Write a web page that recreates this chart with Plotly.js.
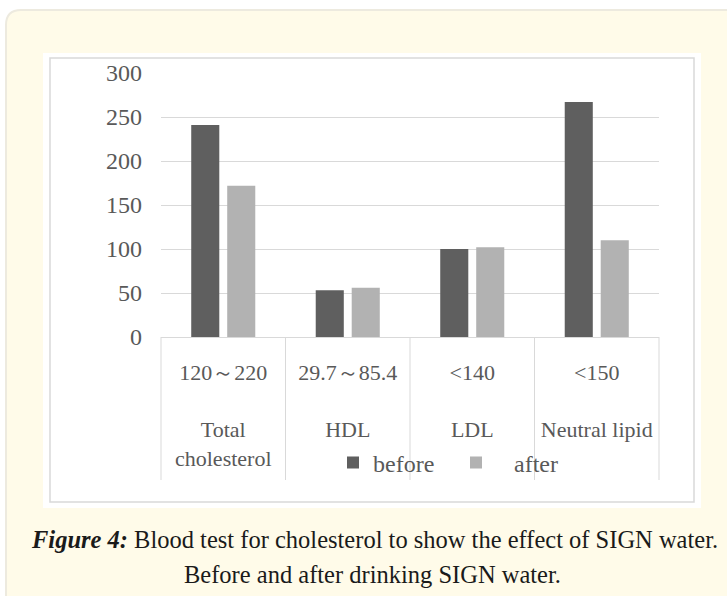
<!DOCTYPE html>
<html>
<head>
<meta charset="utf-8">
<script src="https://cdn.plot.ly/plotly-3.0.1.min.js"></script>
<style>
  html, body { margin: 0; padding: 0; background: #ffffff; }
  #chart { width: 727px; height: 596px; }
</style>
</head>
<body>
<div id="chart"></div>
<script>
// ---- data ----
const categories = ["Total<br>cholesterol", "HDL", "LDL", "Neutral lipid"];
const referenceRanges = ["120～220", "29.7～85.4", "<140", "<150"];
const beforeValues = [241, 53, 100, 267];
const afterValues = [172, 56, 102, 110];
const seriesNames = ["before", "\u00a0\u00a0\u00a0after"];
const captionBold = "Figure 4:";
const captionLine1 = " Blood test for cholesterol to show the effect of SIGN water.";
const captionLine2 = "Before and after drinking SIGN water.";

// ---- layout helpers (pixel -> paper) ----
const W = 727, H = 596;
const M = { l: 161, r: 68, t: 73, b: 259 };
const PW = W - M.l - M.r, PH = H - M.t - M.b;
const px = x => (x - M.l) / PW;
const py = y => (H - M.b - y) / PH;

const tickText = referenceRanges.map((r, i) => r + "<br><br>" + categories[i]);
const catIds = categories.map((c, i) => "c" + i);

const traces = [
  { type: "bar", name: seriesNames[0], x: catIds, y: beforeValues,
    marker: { color: "#5f5f5f", line: { width: 0 } }, hoverinfo: "y" },
  { type: "bar", name: seriesNames[1], x: catIds, y: afterValues,
    marker: { color: "#b2b2b2", line: { width: 0 } }, hoverinfo: "y" }
];

const shapes = [];
const r = 15;
// cream rounded frame
shapes.push({
  type: "path", xref: "paper", yref: "paper", layer: "below",
  path: `M ${px(6)},${py(640)} L ${px(6)},${py(10 + r)} Q ${px(6)},${py(10)} ${px(6 + r)},${py(10)} L ${px(760)},${py(10)} L ${px(760)},${py(640)} Z`,
  fillcolor: "#FFFBE9", line: { color: "#EDEADF", width: 2 }
});
// white chart area
shapes.push({ type: "rect", xref: "paper", yref: "paper", layer: "below",
  x0: px(43), x1: px(701), y0: py(53), y1: py(508),
  fillcolor: "#ffffff", line: { width: 0 } });
// inner chart border
shapes.push({ type: "rect", xref: "paper", yref: "paper", layer: "below",
  x0: px(50), x1: px(694), y0: py(58), y1: py(502),
  fillcolor: "rgba(0,0,0,0)", line: { color: "#D9D9D9", width: 1.5 } });
// category separators below the axis
for (let i = 0; i <= categories.length; i++) {
  shapes.push({ type: "line", xref: "paper", yref: "paper", layer: "below",
    x0: i / categories.length, x1: i / categories.length, y0: 0, y1: py(480),
    line: { color: "#D9D9D9", width: 1 } });
}

const capFont = { family: "Liberation Serif, serif", size: 24.5, color: "#1a1a1a" };
const annotations = [
  { xref: "paper", yref: "paper", x: px(374), y: py(539), xanchor: "center", yanchor: "middle",
    showarrow: false, text: "<b><i>" + captionBold + "</i></b>" + captionLine1, font: capFont },
  { xref: "paper", yref: "paper", x: px(372), y: py(574), xanchor: "center", yanchor: "middle",
    showarrow: false, text: captionLine2, font: capFont }
];

const layout = {
  width: W, height: H,
  margin: M,
  paper_bgcolor: "#ffffff",
  plot_bgcolor: "rgba(0,0,0,0)",
  barmode: "group",
  bargap: 0.422,
  bargroupgap: 0.22,
  font: { family: "Liberation Serif, serif", color: "#595959" },
  xaxis: {
    type: "category",
    tickmode: "array", tickvals: catIds, ticktext: tickText,
    tickfont: { size: 22, color: "#595959" },
    ticks: "", showgrid: false, zeroline: false, showline: false,
    ticklabelstandoff: 20, fixedrange: true
  },
  yaxis: {
    range: [0, 300], dtick: 50, tick0: 0,
    tickfont: { size: 24, color: "#595959" },
    ticks: "", showgrid: true, gridcolor: "#D9D9D9", gridwidth: 1,
    zeroline: true, zerolinecolor: "#D9D9D9", zerolinewidth: 1,
    showline: false, ticklabelstandoff: 18, fixedrange: true
  },
  showlegend: true,
  legend: {
    orientation: "h", x: px(333), y: py(463), xanchor: "left", yanchor: "middle",
    bgcolor: "rgba(0,0,0,0)", borderwidth: 0,
    entrywidth: 78, entrywidthmode: "pixels",
    font: { size: 24, color: "#595959", family: "Liberation Serif, serif" },
    traceorder: "normal", itemclick: false, itemdoubleclick: false
  },
  shapes: shapes,
  annotations: annotations
};

Plotly.newPlot("chart", traces, layout, { displayModeBar: false, staticPlot: true });
</script>
</body>
</html>
